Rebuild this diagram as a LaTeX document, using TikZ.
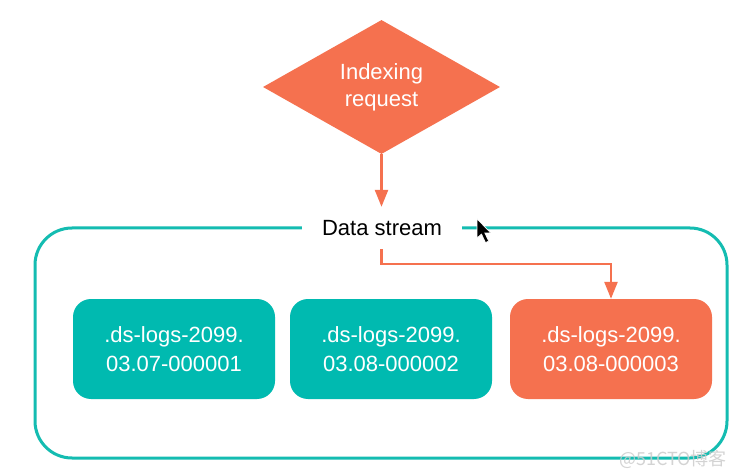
\documentclass[tikz,border=0pt]{standalone}
\usepackage{fontspec}
\setmainfont{Liberation Sans}
\newfontfamily\cjk{Noto Sans CJK SC}
\usetikzlibrary{shapes.geometric,arrows.meta}
\definecolor{orangeA}{HTML}{F5714F}
\definecolor{tealA}{HTML}{00BAB0}
\definecolor{tealLine}{HTML}{14BCB1}
\tikzset{
  lbl/.style={font=\fontsize{22}{27}\selectfont, align=center},
  idx/.style={lbl, font=\fontsize{22}{29}\selectfont, text=white, rounded corners=18pt,
              minimum width=202pt, minimum height=100pt, inner sep=0pt},
  conn/.style={draw=orangeA, line width=2.5pt, -{Triangle[width=13pt,length=17pt]}},
}
\begin{document}
\begin{tikzpicture}[x=1pt,y=-1pt]
\useasboundingbox (0,0) rectangle (737,476);
\fill[white] (0,0) rectangle (737,476);
% container
\node[draw=tealLine, line width=3pt, rounded corners=37pt, minimum width=692pt, minimum height=230pt, inner sep=0pt] (stream) at (381,343) {};
% label on the container
\node[lbl, fill=white, inner xsep=20pt, minimum height=42pt] (ds) at (382,228) {Data stream};
% request diamond
\node[diamond, fill=orangeA, minimum width=237pt, minimum height=134pt, inner sep=0pt, lbl, text=white] (req) at (381.5,87) {Indexing\\request};
% backing indices
\node[idx, fill=tealA] (b1) at (174,349) {.ds-logs-2099.\\03.07-000001};
\node[idx, fill=tealA] (b2) at (391,349) {.ds-logs-2099.\\03.08-000002};
\node[idx, fill=orangeA] (b3) at (611,349) {.ds-logs-2099.\\03.08-000003};
% connectors
\draw[conn] (req.south) -- (req.south |- ds.north);
\coordinate (bend) at (381.5,264);
\draw[conn] (ds.south -| bend) -- (bend) -- (bend -| b3.north) -- (b3.north);
% mouse pointer
\fill[black, draw=white, line width=0.6pt] (477,219) -- ++(0,19) -- ++(4.5,-4) -- ++(4,8.5) -- ++(3.2,-1.4) -- ++(-4,-8.2) -- ++(6,0) -- cycle;
% watermark
\node[font=\cjk\fontsize{18}{20}\selectfont, text=gray!40, opacity=0.85, anchor=east, inner sep=0pt] (wm) at (727,459) {@51CTO博客};
\end{tikzpicture}
\end{document}
